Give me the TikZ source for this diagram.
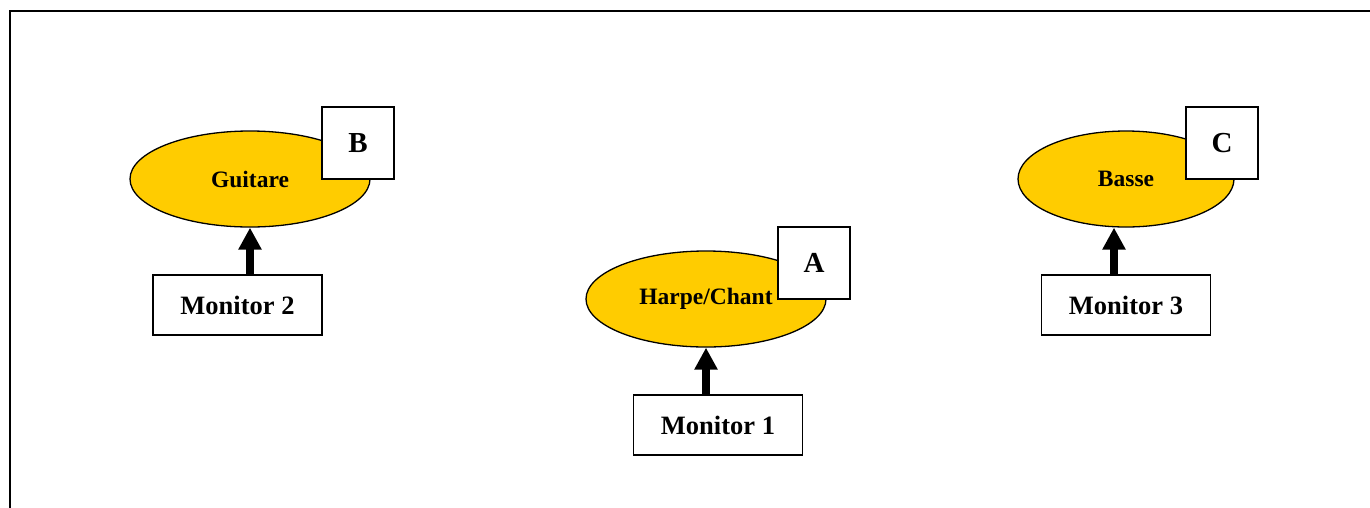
\documentclass[tikz,border=0pt]{standalone}
\usepackage{fontspec}
\setmainfont{Liberation Serif}
\usetikzlibrary{shapes.geometric,arrows.meta}
\definecolor{gold}{HTML}{FFCC00}
\begin{document}
\begin{tikzpicture}[x=1pt,y=-1pt,
  inst/.style={ellipse,draw=black,fill=gold,line width=1.3pt,inner sep=0pt,
    minimum height=96pt,font=\fontsize{23.5}{26}\selectfont\bfseries},
  letterbox/.style={rectangle,draw=black,fill=white,line width=1.3pt,
    minimum width=72pt,minimum height=72pt,inner sep=0pt,
    font=\fontsize{29}{32}\selectfont\bfseries},
  monbox/.style={rectangle,draw=black,fill=white,line width=1.3pt,
    minimum width=169pt,minimum height=60pt,inner sep=0pt,
    font=\fontsize{26.5}{30}\selectfont\bfseries},
  feed/.style={line width=8pt,-{Triangle[width=22pt,length=22pt]}}]
\useasboundingbox (0,0) rectangle (1370,507);
\fill[white] (0,0) rectangle (1370,507);
% frame
\draw[line width=2pt] (10,508) -- (10,11) -- (1371,11);
% instruments
\node[inst,minimum width=240pt] (g) at (250,179) {Guitare};
\node[inst,minimum width=240pt] (h) at (706,299) {Harpe/Chant};
\node[inst,minimum width=216pt] (b) at (1126,179) {Basse};
% letters
\node[letterbox] (lb) at (358,143) {B};
\node[letterbox] (la) at (814,263) {A};
\node[letterbox] (lc) at (1222,143) {C};
% monitors
\node[monbox] (m2) at (237.5,305) {Monitor 2};
\node[monbox] (m1) at (718,425) {Monitor 1};
\node[monbox] (m3) at (1126,305) {Monitor 3};
% arrows
\draw[feed] (g.south |- m2.north) -- (g.south);
\draw[feed] (h.south |- m1.north) -- (h.south);
\draw[feed] ([xshift=-12pt]b.south |- m3.north) -- ([xshift=-12pt]b.south);
\end{tikzpicture}
\end{document}
